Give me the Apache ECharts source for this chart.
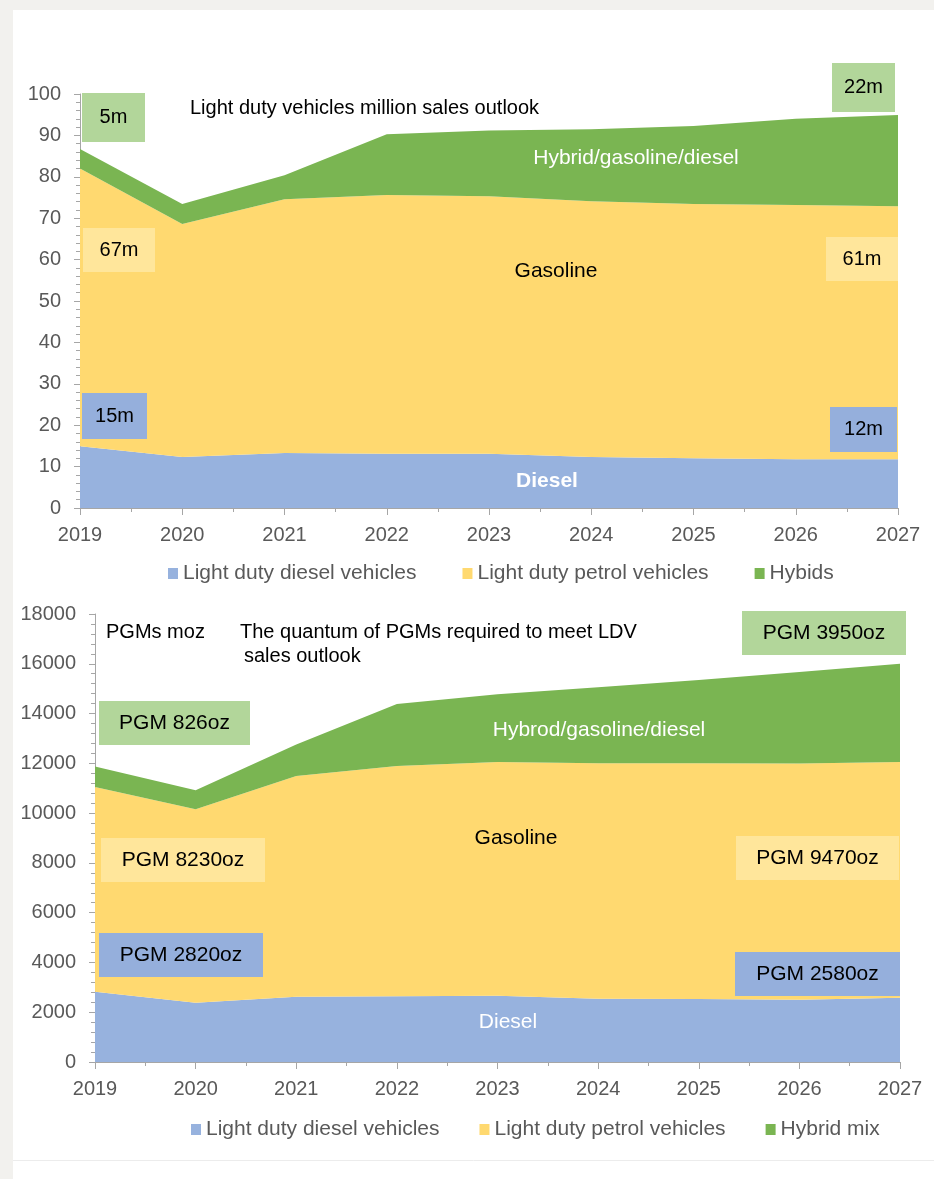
<!DOCTYPE html>
<html>
<head>
<meta charset="utf-8">
<script src="https://cdn.jsdelivr.net/npm/echarts@6/dist/echarts.min.js"></script>
<style>
html,body{margin:0;padding:0;background:#f2f1ee;}
#c{position:absolute;left:0;top:0;width:934px;height:1179px;}
</style>
</head>
<body>
<div id="c"></div>
<script>
// ---------- data ----------
const years = ['2019', '2020', '2021', '2022', '2023', '2024', '2025', '2026', '2027'];

// Top chart: light duty vehicle sales, million
const salesDiesel = [14.9, 12.3, 13.3, 13.1, 13.1, 12.3, 12.0, 11.8, 11.8];
const salesPetrol = [67.1, 56.3, 61.3, 62.5, 62.2, 61.8, 61.4, 61.4, 61.1];
const salesHybrid = [4.7, 4.8, 5.8, 14.7, 15.9, 17.4, 18.9, 20.8, 22.0];

// Bottom chart: PGMs required
const pgmDiesel = [2820, 2380, 2620, 2640, 2660, 2540, 2530, 2500, 2580];
const pgmPetrol = [8230, 7780, 8870, 9250, 9390, 9460, 9470, 9490, 9470];
const pgmHybrid = [826, 760, 1270, 2490, 2730, 3060, 3350, 3680, 3950];

const legendTop = ['Light duty diesel vehicles', 'Light duty petrol vehicles', 'Hybids'];
const legendBottom = ['Light duty diesel vehicles', 'Light duty petrol vehicles', 'Hybrid mix'];

// ---------- styling ----------
const FONT = '"Liberation Sans", Arial, Helvetica, sans-serif';
const C_BLUE = '#97b2de';
const C_YEL = '#ffd970';
const C_GRN = '#7ab552';
const B_GRN = '#b2d69a';
const B_YEL = '#ffe69b';
const B_BLUE = '#95afdc';
const AX = '#a6a6a6';
const LBL = '#595959';

function area(name, data, color, xi, yi, stack) {
  return {
    type: 'line', name: name, data: data, stack: stack,
    xAxisIndex: xi, yAxisIndex: yi,
    symbol: 'none', showSymbol: false, smooth: false,
    lineStyle: {width: 0, color: color},
    itemStyle: {color: color},
    areaStyle: {color: color, opacity: 1},
    emphasis: {disabled: true}, silent: true
  };
}

// category axis carrying the data (hidden)
function catAxis(gi) {
  return {
    type: 'category', gridIndex: gi, data: years, boundaryGap: false,
    axisLine: {show: false}, axisTick: {show: false}, axisLabel: {show: false}, splitLine: {show: false}
  };
}
// value axis on the same grid used for ticks, half-year minor ticks and labels
function yearAxis(gi) {
  return {
    type: 'value', gridIndex: gi, min: 2019, max: 2027, interval: 1, position: 'bottom',
    axisLine: {show: true, lineStyle: {color: AX, width: 1}},
    axisTick: {show: true, length: 7, lineStyle: {color: AX}},
    minorTick: {show: true, splitNumber: 2, length: 4, lineStyle: {color: AX}},
    splitLine: {show: false}, minorSplitLine: {show: false},
    axisLabel: {color: LBL, fontSize: 20, fontFamily: FONT, margin: 17, formatter: v => String(v)}
  };
}
function yAxis(gi, max, interval) {
  return {
    type: 'value', gridIndex: gi, min: 0, max: max, interval: interval,
    axisLine: {show: true, lineStyle: {color: AX, width: 1}},
    axisTick: {show: true, length: 6, lineStyle: {color: AX}},
    minorTick: {show: true, splitNumber: 5, length: 4, lineStyle: {color: AX}},
    splitLine: {show: false}, minorSplitLine: {show: false},
    axisLabel: {color: LBL, fontSize: 20, fontFamily: FONT, margin: 19, formatter: v => String(v)}
  };
}

function box(x1, y1, x2, y2, fill, text, color, size, weight) {
  return [
    {type: 'rect', shape: {x: x1, y: y1, width: x2 - x1, height: y2 - y1}, style: {fill: fill}, z: 10, silent: true},
    {type: 'text', x: (x1 + x2) / 2, y: (y1 + y2) / 2, z: 11, silent: true,
     style: {text: text, fill: color || '#000', font: (weight || 'normal') + ' ' + (size || 20) + 'px ' + FONT,
             textAlign: 'center', textVerticalAlign: 'middle'}}
  ];
}
function label(x, y, text, color, size, weight, align) {
  return {type: 'text', x: x, y: y, z: 11, silent: true,
    style: {text: text, fill: color || '#000', font: (weight || 'normal') + ' ' + (size || 20) + 'px ' + FONT,
            textAlign: align || 'center', textVerticalAlign: 'middle'}};
}

const graphics = [
  {type: 'rect', shape: {x: 13, y: 10, width: 921, height: 1169}, style: {fill: '#ffffff'}, z: -10, silent: true},
  {type: 'line', shape: {x1: 13, y1: 1160.5, x2: 934, y2: 1160.5}, style: {stroke: '#ececec', lineWidth: 1}, z: -9, silent: true},
  // top chart annotations
  label(190, 108, 'Light duty vehicles million sales outlook', '#000', 20, 'normal', 'left'),
  ...box(82, 93, 145, 142, B_GRN, '5m'),
  ...box(832, 63, 895, 112, B_GRN, '22m'),
  label(636, 158, 'Hybrid/gasoline/diesel', '#fff', 21),
  ...box(83, 228, 155, 272, B_YEL, '67m'),
  label(556, 271, 'Gasoline', '#000', 21),
  ...box(826, 237, 898, 281, B_YEL, '61m'),
  ...box(82, 393, 147, 439, B_BLUE, '15m'),
  ...box(830, 407, 897, 452, B_BLUE, '12m'),
  label(547, 481, 'Diesel', '#fff', 21, 'bold'),
  // bottom chart annotations
  label(106, 632, 'PGMs moz', '#000', 20, 'normal', 'left'),
  label(240, 632, 'The quantum of PGMs required to meet LDV', '#000', 20, 'normal', 'left'),
  label(244, 656, 'sales outlook', '#000', 20, 'normal', 'left'),
  ...box(99, 701, 250, 745, B_GRN, 'PGM 826oz', '#000', 21),
  ...box(742, 611, 906, 655, B_GRN, 'PGM 3950oz', '#000', 21),
  label(599, 730, 'Hybrod/gasoline/diesel', '#fff', 21),
  label(516, 838, 'Gasoline', '#000', 21),
  ...box(101, 838, 265, 882, B_YEL, 'PGM 8230oz', '#000', 21),
  ...box(736, 836, 899, 880, B_YEL, 'PGM 9470oz', '#000', 21),
  ...box(99, 933, 263, 977, B_BLUE, 'PGM 2820oz', '#000', 21),
  ...box(735, 952, 900, 996, B_BLUE, 'PGM 2580oz', '#000', 21),
  label(508, 1022, 'Diesel', '#fff', 21)
];

const chart = echarts.init(document.getElementById('c'), null, {renderer: 'canvas'});
chart.setOption({
  animation: false,
  backgroundColor: 'transparent',
  grid: [
    {left: 80, right: 36, top: 94, height: 414},
    {left: 95, right: 34, top: 614, height: 448}
  ],
  xAxis: [catAxis(0), catAxis(1), yearAxis(0), yearAxis(1)],
  yAxis: [yAxis(0, 100, 10), yAxis(1, 18000, 2000)],
  legend: [
    {data: legendTop, left: 163, top: 558, icon: 'rect', itemWidth: 10, itemHeight: 11, itemGap: 46,
     textStyle: {color: LBL, fontSize: 21, fontFamily: FONT}, selectedMode: false},
    {data: legendBottom, left: 186, top: 1114, icon: 'rect', itemWidth: 10, itemHeight: 11, itemGap: 40,
     textStyle: {color: LBL, fontSize: 21, fontFamily: FONT}, selectedMode: false}
  ],
  graphic: graphics,
  series: [
    area('Light duty diesel vehicles', salesDiesel, C_BLUE, 0, 0, 'top'),
    area('Light duty petrol vehicles', salesPetrol, C_YEL, 0, 0, 'top'),
    area('Hybids', salesHybrid, C_GRN, 0, 0, 'top'),
    area('Light duty diesel vehicles', pgmDiesel, C_BLUE, 1, 1, 'bot'),
    area('Light duty petrol vehicles', pgmPetrol, C_YEL, 1, 1, 'bot'),
    area('Hybrid mix', pgmHybrid, C_GRN, 1, 1, 'bot')
  ]
});
</script>
</body>
</html>
